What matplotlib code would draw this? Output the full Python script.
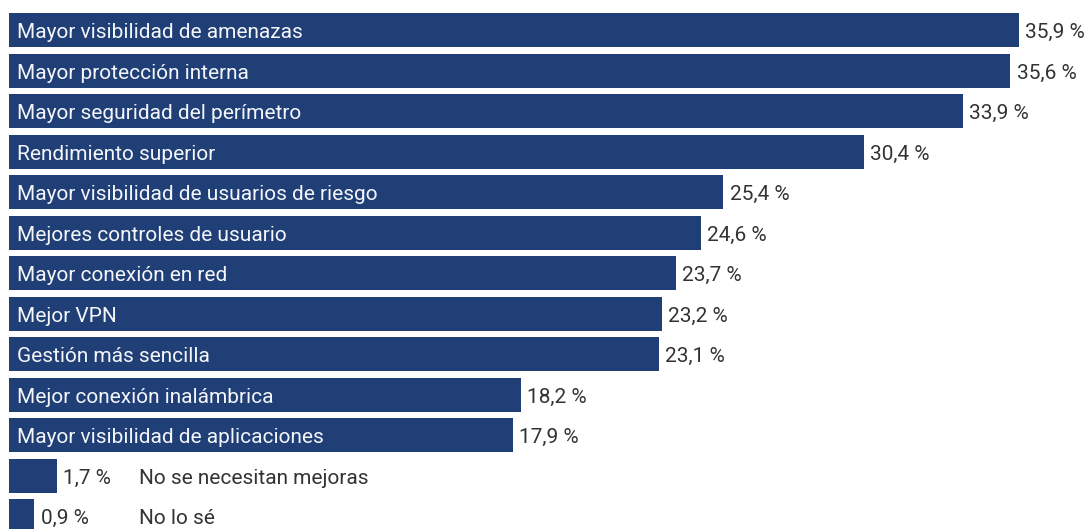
import matplotlib.pyplot as plt

categories = ["Mayor visibilidad de amenazas", "Mayor protección interna",
              "Mayor seguridad del perímetro", "Rendimiento superior",
              "Mayor visibilidad de usuarios de riesgo", "Mejores controles de usuario",
              "Mayor conexión en red", "Mejor VPN", "Gestión más sencilla",
              "Mejor conexión inalámbrica", "Mayor visibilidad de aplicaciones",
              "No se necesitan mejoras", "No lo sé"]
values = [35.9, 35.6, 33.9, 30.4, 25.4, 24.6, 23.7, 23.2, 23.1, 18.2, 17.9, 1.7, 0.9]

bar_color = "#1f3f76"
plt.rcParams['font.family'] = ['Roboto', 'DejaVu Sans']
fs = 15

fig = plt.figure(figsize=(10.9, 5.29), dpi=100)
ax = fig.add_axes([0, 0, 1, 1])

y = list(range(len(values)))
ax.barh(y, values, height=0.84, color=bar_color)

for i, (cat, v) in enumerate(zip(categories, values)):
    txt = f"{v:.1f}".replace(".", ",") + " %"
    ax.text(v + 0.22, i + 0.2, txt, va="baseline", ha="left", fontsize=fs,
            color="#333333")
    if v > 5:
        ax.text(0.28, i + 0.2, cat, va="baseline", ha="left", fontsize=fs,
                color="#f4f6fa")
    else:
        ax.text(4.62, i + 0.2, cat, va="baseline", ha="left", fontsize=fs,
                color="#333333")

ax.set_xlim(-0.32, 38.43)
ax.set_ylim(12.32, -0.741)
ax.axis("off")

fig.savefig("out.png", dpi=100)
